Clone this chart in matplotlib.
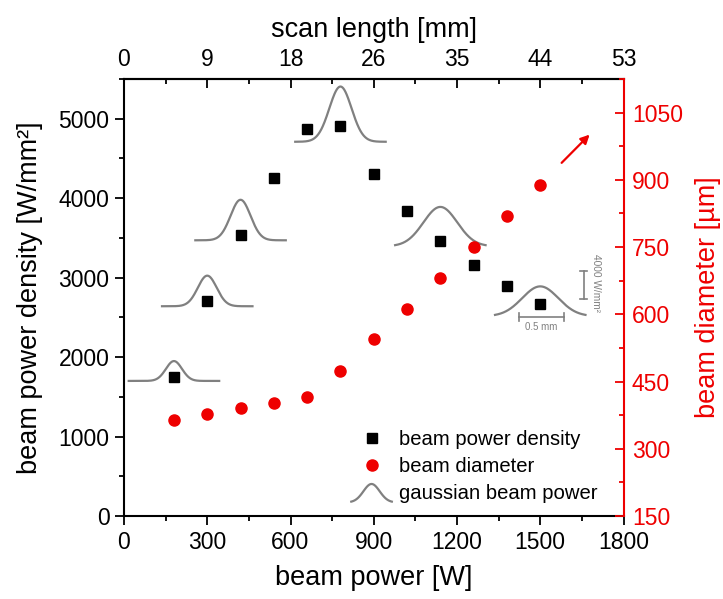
import numpy as np
import matplotlib
matplotlib.use('Agg')
import matplotlib.pyplot as plt
from matplotlib.ticker import MultipleLocator
from matplotlib.legend_handler import HandlerBase
from matplotlib.lines import Line2D

plt.rcParams['font.family'] = ['Liberation Sans', 'DejaVu Sans']

# ---- data ----
power = [180, 300, 420, 540, 660, 780, 900, 1020, 1140, 1260, 1380, 1500]
density = [1750, 2705, 3540, 4255, 4870, 4910, 4305, 3835, 3465, 3155, 2895, 2670]
diameter = [364, 377, 390, 403, 415, 473, 544, 612, 681, 751, 820, 889]

gauss_power = [180, 300, 420, 780, 1140, 1500]
gauss_base = [1700, 2640, 3470, 4710, 3395, 2515]
gauss_height = [250, 385, 510, 695, 495, 375]
gauss_sigma = [29, 34, 36, 40, 61, 65]
gauss_halfwidth = 163

scan_ticks = [0, 300, 600, 900, 1200, 1500, 1800]
scan_labels = ['0', '9', '18', '26', '35', '44', '53']

GRAY = '#808080'
RED = '#ee0000'
TICK_FS = 16.5
LABEL_FS = 19.5

fig = plt.figure(figsize=(7.23, 5.99), dpi=100)
ax = fig.add_axes([124/723, 1 - 516/599, 499.5/723, 437/599])
ax2 = ax.twinx()

# gaussian beam profiles
for c, b, h, s in zip(gauss_power, gauss_base, gauss_height, gauss_sigma):
    x = np.linspace(c - gauss_halfwidth, c + gauss_halfwidth, 300)
    y = b + h * np.exp(-(x - c) ** 2 / (2 * s ** 2))
    ax.plot(x, y, color=GRAY, lw=1.6, zorder=2)

ax.plot(power, density, ls='none', marker='s', ms=6.5, color='black', zorder=3)
ax2.plot(power, diameter, ls='none', marker='o', ms=8, color=RED, mec=RED, zorder=3)

# arrow
ax.annotate('', xy=(1685, 4825), xytext=(1570, 4420),
            arrowprops=dict(arrowstyle='-|>', color=RED, lw=1.6, mutation_scale=13))

# scale bars
sb_kw = dict(color=GRAY, lw=1.2)
ax.plot([1656, 1656], [2726, 3078], **sb_kw)
ax.plot([1642, 1670], [3078, 3078], **sb_kw)
ax.plot([1642, 1670], [2726, 2726], **sb_kw)
ax.text(1702, 2930, '4000 W/mm²', rotation=270, ha='center', va='center',
        fontsize=7.3, color=GRAY)
ax.plot([1422, 1584], [2504, 2504], **sb_kw)
ax.plot([1422, 1422], [2454, 2554], **sb_kw)
ax.plot([1584, 1584], [2454, 2554], **sb_kw)
ax.text(1503, 2440, '0.5 mm', ha='center', va='top', fontsize=7, color=GRAY)

# axes limits / ticks
ax.set_xlim(0, 1800)
ax.set_ylim(0, 5500)
ax2.set_ylim(150, 1125)
ax.set_xticks(scan_ticks)
ax.xaxis.set_minor_locator(MultipleLocator(150))
ax.set_yticks([0, 1000, 2000, 3000, 4000, 5000])
ax.yaxis.set_minor_locator(MultipleLocator(500))
ax2.set_yticks([150, 300, 450, 600, 750, 900, 1050])
ax2.yaxis.set_minor_locator(MultipleLocator(75))

for sp in ax.spines.values():
    sp.set_linewidth(1.5)
for sp in ax2.spines.values():
    sp.set_visible(False)
ax2.spines['right'].set_visible(True)
ax2.spines['right'].set_color(RED)
ax2.spines['right'].set_linewidth(1.5)
ax.spines['right'].set_visible(False)

ax.tick_params(axis='both', which='major', direction='out', length=6.5, width=1.3,
               labelsize=TICK_FS, pad=4)
ax.tick_params(axis='both', which='minor', direction='out', length=3.8, width=1.3)
ax.tick_params(axis='x', top=False, which='both')
ax.tick_params(axis='y', right=False, which='both')
ax2.tick_params(axis='y', which='major', direction='in', length=6.5, width=1.3,
                labelsize=TICK_FS, colors=RED, pad=6)
ax2.tick_params(axis='y', which='minor', direction='in', length=3.8, width=1.3, colors=RED)

sec = ax.secondary_xaxis('top')
sec.set_xticks(scan_ticks, labels=scan_labels)
sec.xaxis.set_minor_locator(MultipleLocator(150))
sec.tick_params(which='major', direction='in', length=6.5, width=1.3, labelsize=TICK_FS, pad=6)
sec.tick_params(which='minor', direction='in', length=3.8, width=1.3)
sec.spines['top'].set_linewidth(1.5)
sec.set_xlabel('scan length [mm]', fontsize=LABEL_FS, labelpad=8)

ax.set_xlabel('beam power [W]', fontsize=LABEL_FS, labelpad=8)
ax.set_ylabel('beam power density [W/mm²]', fontsize=LABEL_FS, labelpad=11)
ax2.set_ylabel('beam diameter [µm]', fontsize=LABEL_FS, color=RED, labelpad=9)


class HandlerGauss(HandlerBase):
    def create_artists(self, legend, orig_handle, xdescent, ydescent, width, height,
                       fontsize, trans):
        x = np.linspace(0, width, 80)
        y = -0.25 * height + 1.3 * height * np.exp(-((x - width / 2) / (width * 0.2)) ** 2 / 2)
        line = Line2D(x - xdescent, y - ydescent, color=GRAY, lw=1.6)
        line.set_transform(trans)
        return [line]


h1 = Line2D([], [], ls='none', marker='s', ms=6.5, color='black')
h2 = Line2D([], [], ls='none', marker='o', ms=8, color=RED)
h3 = Line2D([], [], color=GRAY, lw=1.6)
ax2.legend([h1, h2, h3], ['beam power density', 'beam diameter', 'gaussian beam power'],
           handler_map={h3: HandlerGauss()}, loc='lower left',
           bbox_to_anchor=(0.455, 0.03), frameon=False, fontsize=14.6,
           borderpad=0, borderaxespad=0, handlelength=2.0, handletextpad=0.35,
           labelspacing=0.4)

fig.savefig('out.png', dpi=100)
